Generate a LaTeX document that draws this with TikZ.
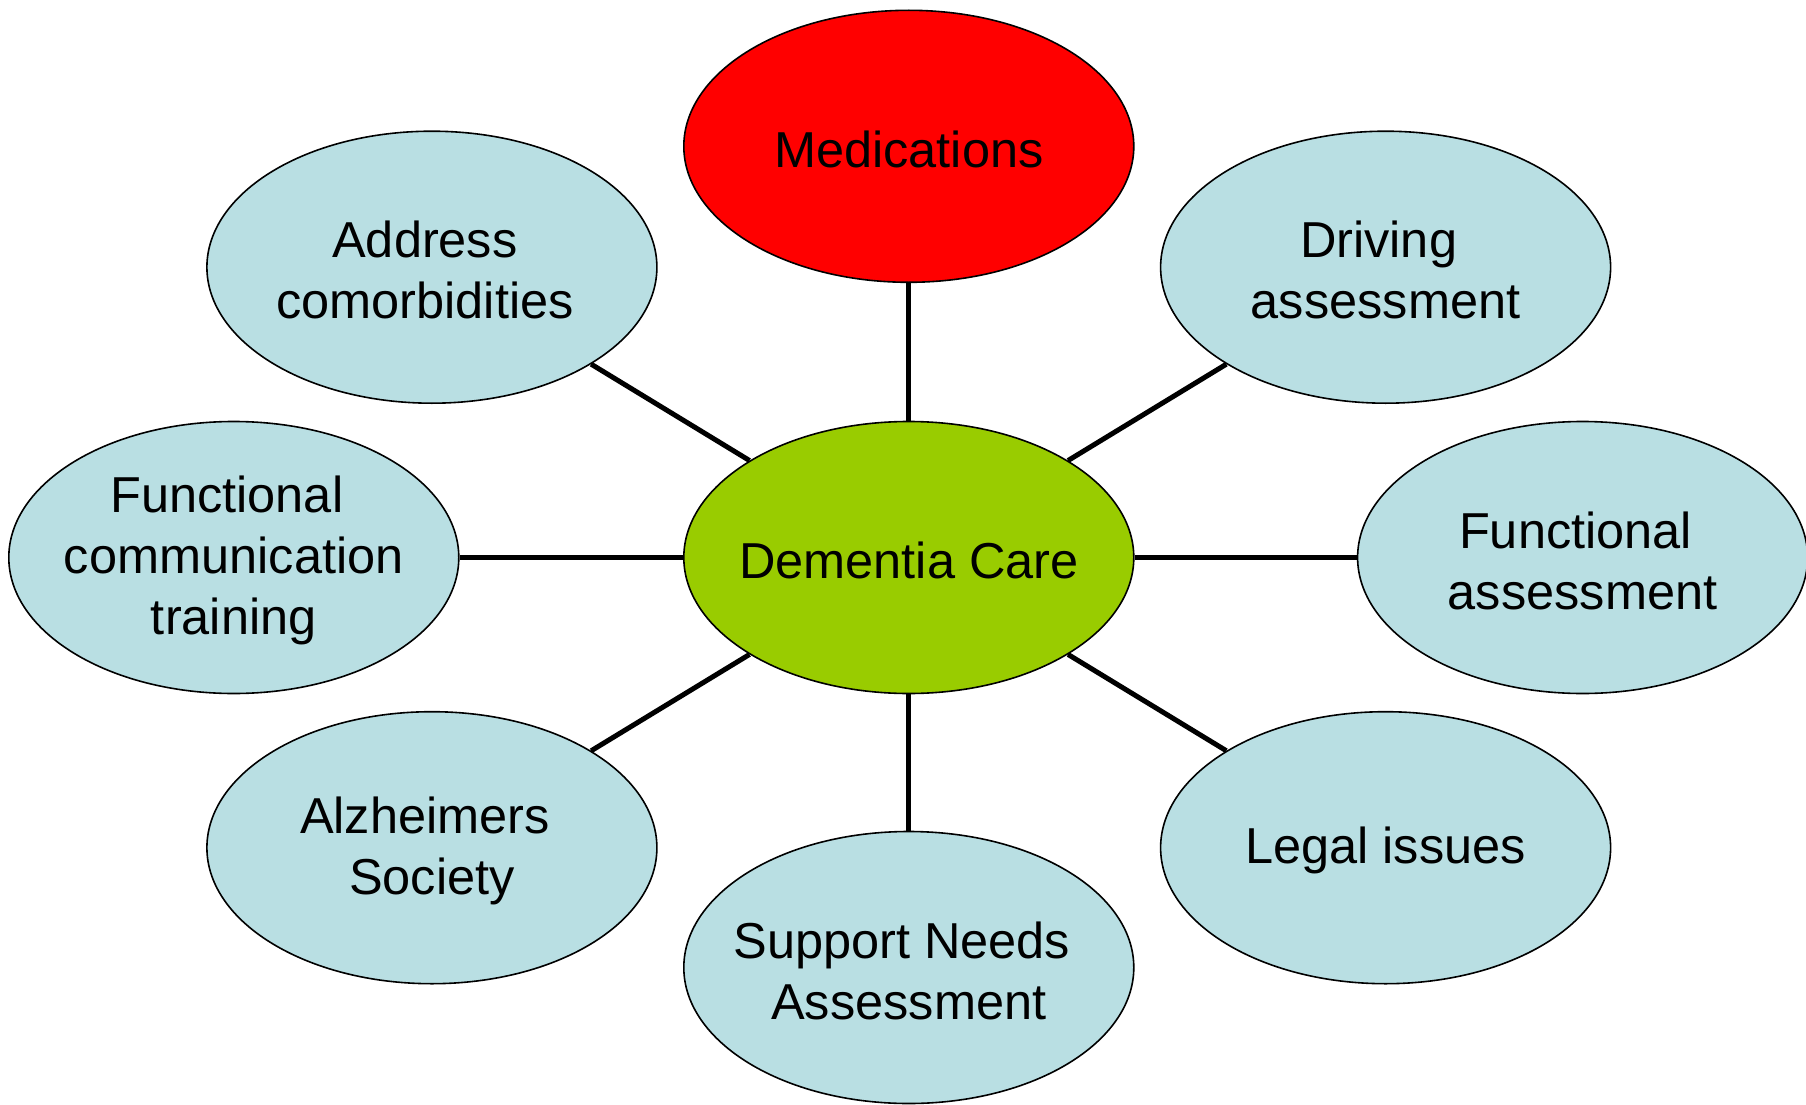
\documentclass[tikz,border=0pt]{standalone}
\usepackage{fontspec}
\setmainfont{Liberation Sans}
\usetikzlibrary{shapes.geometric}
\definecolor{lblue}{HTML}{B9DFE3}
\definecolor{cgreen}{HTML}{99CC00}
\definecolor{cred}{HTML}{FF0000}
\newcommand{\tsp}{\hspace*{0.278em}}
\tikzset{
  ell/.style={ellipse, draw=black, line width=1.6pt, minimum width=450pt, minimum height=272pt, inner sep=0pt, fill=lblue},
  lbl/.style={align=center, font=\fontsize{50.5}{61}\selectfont, inner sep=0pt, yshift=-3pt},
  conn/.style={line width=5pt, draw=black}
}
\begin{document}
\begin{tikzpicture}[x=1pt,y=-1pt]
\useasboundingbox[fill=white] (0,0) rectangle (1806,1105);
\node[ell, fill=cred] (med) at (908.8,146.3) {};
\node[ell, fill=cgreen] (dem) at (908.8,557.5) {};
\node[ell] (addr) at (431.9,267.2) {};
\node[ell] (drive) at (1385.6,267.2) {};
\node[ell] (fct) at (233.8,557.5) {};
\node[ell] (fa) at (1582.6,557.5) {};
\node[ell] (alz) at (431.9,847.7) {};
\node[ell] (legal) at (1385.6,847.7) {};
\node[ell] (sup) at (908.8,967.5) {};
\foreach \n in {med,addr,drive,fct,fa,alz,legal,sup}
  \draw[conn] (dem) -- (\n);
\node[lbl] (medt) at (med) {Medications};
\node[lbl] (demt) at (dem) {Dementia Care};
\node[lbl] (addrt) at (addr) {Address\tsp\\comorbidities\tsp};
\node[lbl] (drivet) at (drive) {Driving\tsp\\assessment};
\node[lbl] (fctt) at (fct) {Functional\tsp\\communication\tsp\\training};
\node[lbl] (fat) at (fa) {Functional\tsp\\assessment};
\node[lbl] (alzt) at (alz) {Alzheimers\tsp\\Society};
\node[lbl] (legalt) at (legal) {Legal issues};
\node[lbl] (supt) at (sup) {Support Needs\tsp\\Assessment};
\end{tikzpicture}
\end{document}
